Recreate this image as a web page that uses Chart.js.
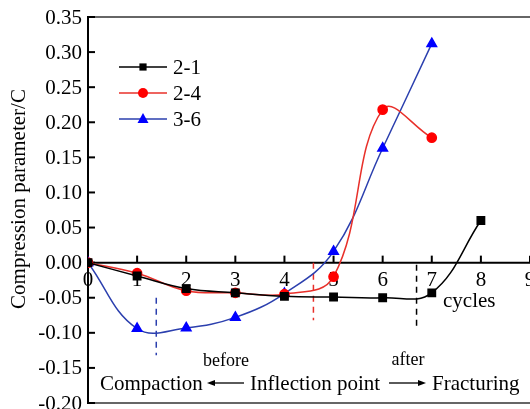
<!DOCTYPE html>
<html>
<head>
<script src="https://cdn.jsdelivr.net/npm/chart.js@4.4.0/dist/chart.umd.min.js"></script>
<style>
  body { margin: 0; background: #fff; }
</style>
</head>
<body>
<canvas id="myChart" width="530" height="409"></canvas>
<script>
// data
const cycles = [0, 1, 2, 3, 4, 5, 6, 7, 8];
const s21 = [0, -0.019, -0.037, -0.043, -0.048, -0.049, -0.050, -0.043, 0.060];
const s24 = [0, -0.015, -0.040, -0.043, -0.045, -0.020, 0.218, 0.178];
const s36 = [0, -0.094, -0.093, -0.078, -0.044, 0.016, 0.163, 0.312];
const seriesNames = ["2-1", "2-4", "3-6"];

const xTicks = [0, 1, 2, 3, 4, 5, 6, 7, 8, 9];
const yTicks = [-0.20, -0.15, -0.10, -0.05, 0.00, 0.05, 0.10, 0.15, 0.20, 0.25, 0.30, 0.35];

// inflection markers: x position, top and bottom value
const markX = [1.39, 4.59, 6.69];
const markTop = [-0.05, 0.0, -0.003];
const markBottom = [-0.132, -0.082, -0.096];
const markColor = ["#2b3fae", "#e8302a", "#000"];

const FONT = "'Liberation Serif', 'Times New Roman', serif";

function toPts(vals) {
  return vals.map((v, i) => ({ x: cycles[i], y: v }));
}

function line(ctx, x1, y1, x2, y2) {
  ctx.beginPath();
  ctx.moveTo(x1, y1);
  ctx.lineTo(x2, y2);
  ctx.stroke();
}

function marker(ctx, style, x, y, color) {
  ctx.fillStyle = color;
  ctx.beginPath();
  if (style === "rect") {
    ctx.rect(x - 3.6, y - 3.6, 7.2, 7.2);
  } else if (style === "circle") {
    ctx.arc(x, y, 5, 0, Math.PI * 2);
  } else {
    ctx.moveTo(x, y - 6);
    ctx.lineTo(x + 5.5, y + 4);
    ctx.lineTo(x - 5.5, y + 4);
    ctx.closePath();
  }
  ctx.fill();
}

const decor = {
  id: "decor",
  beforeDatasetsDraw(chart) {
    const { ctx, chartArea: a, scales: { x, y } } = chart;
    ctx.save();
    // frame top/bottom
    ctx.strokeStyle = "#666";
    ctx.lineWidth = 2;
    line(ctx, a.left, a.top, a.right, a.top);
    line(ctx, a.left, a.bottom, a.right, a.bottom);

    // zero line axis with ticks
    const y0 = y.getPixelForValue(0);
    ctx.strokeStyle = "#000";
    line(ctx, a.left, y0, a.right, y0);
    xTicks.forEach(v => {
      const px = x.getPixelForValue(v);
      line(ctx, px, y0, px, y0 - 7);
    });

    // left axis
    line(ctx, a.left, a.top - 1, a.left, a.bottom + 1);
    ctx.fillStyle = "#000";
    ctx.font = "21px " + FONT;
    ctx.textAlign = "right";
    ctx.textBaseline = "middle";
    yTicks.forEach(v => {
      const py = y.getPixelForValue(v);
      line(ctx, a.left, py, a.left + 7, py);
      ctx.fillText(v.toFixed(2), a.left - 6, py + 1);
    });

    // x tick labels below the zero line
    ctx.textAlign = "center";
    xTicks.forEach(v => {
      ctx.fillText(String(v), x.getPixelForValue(v), y0 + 18);
    });

    // dashed inflection lines
    ctx.lineWidth = 1.5;
    ctx.setLineDash([6, 5]);
    markX.forEach((v, i) => {
      ctx.strokeStyle = markColor[i];
      const px = x.getPixelForValue(v);
      line(ctx, px, y.getPixelForValue(markTop[i]), px, y.getPixelForValue(markBottom[i]));
    });
    ctx.setLineDash([]);

    // y title
    ctx.save();
    ctx.translate(19, 199);
    ctx.rotate(-Math.PI / 2);
    ctx.font = "21px " + FONT;
    ctx.fillStyle = "#000";
    ctx.fillText("Compression parameter/C", 0, 0);
    ctx.restore();
    ctx.restore();
  },
  afterDraw(chart) {
    const { ctx } = chart;
    ctx.save();
    // legend
    const styles = ["rect", "circle", "triangle"];
    const lineCols = ["#000", "#e8302a", "#2b3fae"];
    const markCols = ["#000", "#ff0000", "#0000ff"];
    const ly = [67, 93, 119];
    ctx.font = "21px " + FONT;
    ctx.textAlign = "left";
    ctx.textBaseline = "middle";
    seriesNames.forEach((n, i) => {
      ctx.strokeStyle = lineCols[i];
      ctx.lineWidth = 1.5;
      line(ctx, 119, ly[i], 167, ly[i]);
      marker(ctx, styles[i], 143, ly[i], markCols[i]);
      ctx.fillStyle = "#000";
      ctx.fillText(n, 173, ly[i] + 1);
    });

    // annotation texts
    ctx.fillStyle = "#000";
    ctx.fillText("cycles", 443, 301);
    ctx.fillText("Compaction", 100, 384);
    ctx.fillText("Inflection point", 250, 384);
    ctx.fillText("Fracturing", 432, 384);
    ctx.font = "18px " + FONT;
    ctx.textAlign = "center";
    ctx.fillText("before", 226, 361);
    ctx.fillText("after", 408, 360);

    // arrows
    ctx.strokeStyle = "#000";
    ctx.lineWidth = 1.3;
    line(ctx, 212, 383, 244, 383);
    line(ctx, 389, 383, 421, 383);
    ctx.beginPath();
    ctx.moveTo(207, 383); ctx.lineTo(215, 380); ctx.lineTo(215, 386); ctx.closePath();
    ctx.fill();
    ctx.beginPath();
    ctx.moveTo(426, 383); ctx.lineTo(418, 380); ctx.lineTo(418, 386); ctx.closePath();
    ctx.fill();
    ctx.restore();
  }
};

function drawChart() {
  new Chart("myChart", {
    type: "line",
    data: {
      datasets: [
        {
          label: seriesNames[0],
          data: toPts(s21),
          borderColor: "#000",
          backgroundColor: "#000",
          pointStyle: "rect",
          pointRadius: 5.2,
          borderWidth: 1.5,
          tension: 0.4
        },
        {
          label: seriesNames[1],
          data: toPts(s24),
          borderColor: "#e8302a",
          backgroundColor: "#ff0000",
          pointBorderColor: "#ff0000",
          pointStyle: "circle",
          pointRadius: 4.6,
          borderWidth: 1.5,
          tension: 0.4
        },
        {
          label: seriesNames[2],
          data: toPts(s36),
          borderColor: "#2b3fae",
          backgroundColor: "#0000ff",
          pointBorderColor: "#0000ff",
          pointStyle: "triangle",
          pointRadius: 5.5,
          borderWidth: 1.5,
          tension: 0.4
        }
      ]
    },
    options: {
      responsive: false,
      animation: false,
      layout: { autoPadding: false, padding: { left: 88, top: 17, right: 0, bottom: 6 } },
      plugins: { legend: { display: false }, tooltip: { enabled: false } },
      scales: {
        x: { type: "linear", min: 0, max: 9, display: false },
        y: { min: -0.20, max: 0.35, display: false }
      }
    },
    plugins: [decor]
  });
}

document.fonts.load("21px 'Liberation Serif'").then(drawChart, drawChart);
</script>
</body>
</html>
